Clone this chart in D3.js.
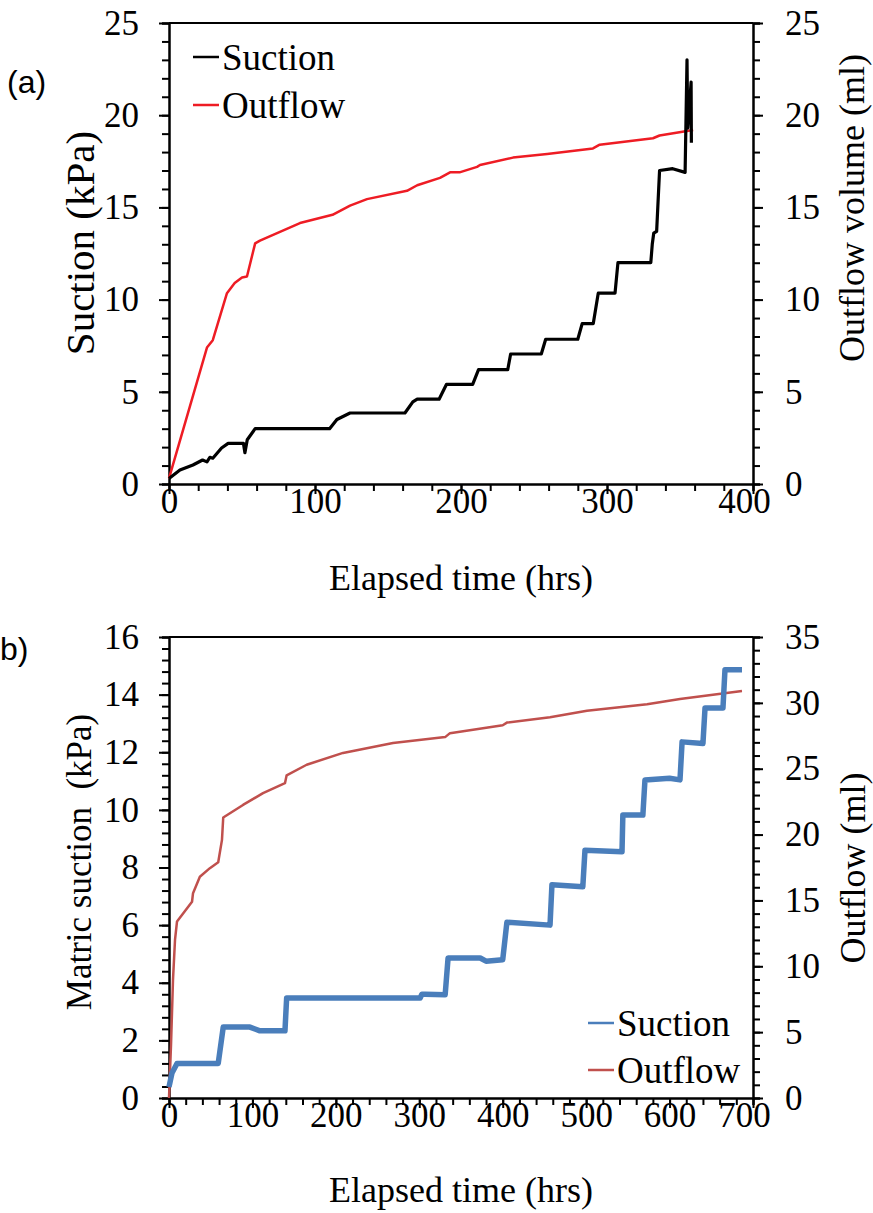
<!DOCTYPE html>
<html lang="en">
<head>
<meta charset="UTF-8">
<title>Suction and outflow vs elapsed time</title>
<script src="https://d3js.org/d3.v7.min.js"></script>
<style>
  body { margin: 0; background: #fff; }
  svg text { font-family: "Liberation Serif", "Times New Roman", serif; fill: #000; }
  .tag { font-family: "Liberation Sans", Arial, sans-serif !important; font-size: 32px; }
  .axis path, .axis line { stroke: #000; stroke-width: 2px; }
  .title { font-size: 36px; }
  .legend text { font-size: 37px; }
</style>
</head>
<body>
<svg width="873" height="1213"></svg>
<script>
// panel (a): [elapsed hrs, value]
const suctionA = [
  [0, 0.3], [7.5, 0.76], [16.4, 1.03], [23, 1.3], [26, 1.2], [28, 1.45], [30, 1.4],
  [36, 1.95], [40.5, 2.2], [51, 2.2], [52, 1.7], [53.6, 2.4], [59, 3.0], [110, 3.0],
  [115, 3.5], [124, 3.85], [161.6, 3.85], [167, 4.45], [170, 4.6], [185, 4.6],
  [190, 5.4], [208, 5.4], [212, 6.2], [232, 6.2], [234, 7.05], [255, 7.05],
  [258, 7.85], [280, 7.85], [283, 8.7], [290.6, 8.7], [294, 10.35], [305.5, 10.35],
  [307.5, 12.0], [330, 12.0], [331, 13.0], [332, 13.6], [334, 13.7], [336, 17.0],
  [345, 17.1], [353.5, 16.9], [354.8, 23.0], [355.3, 19.3], [356.5, 20.5],
  [357.6, 21.8], [357.8, 18.5]
];
const outflowA = [
  [0, 0.3], [26, 7.4], [30, 7.8], [39.7, 10.35], [45, 10.9], [50, 11.2], [53.4, 11.25],
  [59, 13.05], [62.3, 13.2], [89.7, 14.15], [112, 14.6], [124, 15.1], [135.6, 15.45],
  [163, 15.9], [170, 16.2], [185.6, 16.6], [192.5, 16.9], [199, 16.9], [211, 17.2],
  [213, 17.3], [235.6, 17.7], [259, 17.9], [290.4, 18.2], [295, 18.4], [331.5, 18.75],
  [336, 18.9], [359, 19.2]
];
// panel (b)
const suctionB = [
  [0, 0.38], [3.6, 0.87], [9.6, 1.2], [59, 1.2], [65, 2.46], [97, 2.46], [109, 2.33],
  [139, 2.33], [141, 3.47], [301, 3.47], [303, 3.6], [307, 3.6], [331, 3.58],
  [334.5, 4.86], [373, 4.86], [380, 4.75], [400, 4.8], [405, 6.1], [456.7, 6.0],
  [459, 7.4], [496, 7.33], [498.6, 8.6], [543, 8.55], [544, 9.82], [568, 9.82],
  [570.5, 11.04], [600, 11.1], [612.5, 11.04], [615, 12.36], [640, 12.3],
  [642.5, 13.54], [664, 13.54], [666.4, 14.86], [686.8, 14.86]
];
const outflowB = [
  [0, 0], [2.4, 4], [4.8, 9], [7.2, 12], [9.6, 13.4], [27.6, 14.9], [28.8, 15.55],
  [37, 16.8], [49, 17.45], [59, 17.9], [63.5, 19.6], [65, 21.3], [88.7, 22.25],
  [112.7, 23.15], [139, 23.9], [141, 24.5], [165, 25.3], [208.6, 26.2], [268.5, 26.95],
  [331, 27.4], [336.8, 27.7], [400, 28.3], [405, 28.5], [456.7, 28.9], [501, 29.4],
  [573, 29.9], [612.5, 30.3], [686.8, 30.9]
];

const xTicksA = [0, 100, 200, 300, 400];
const yLeftTicksA = [0, 5, 10, 15, 20, 25];
const yRightTicksA = [0, 5, 10, 15, 20, 25];
const xTicksB = [0, 100, 200, 300, 400, 500, 600, 700];
const yLeftTicksB = [0, 2, 4, 6, 8, 10, 12, 14, 16];
const yRightTicksB = [0, 5, 10, 15, 20, 25, 30, 35];

const svg = d3.select("svg");

function drawPanel(p) {
  const left = 169, right = 753;
  const x = d3.scaleLinear().domain([0, p.xMax]).range([left, right]);
  const yL = d3.scaleLinear().domain([0, p.yLMax]).range([p.bottom, p.top]);
  const yR = d3.scaleLinear().domain([0, p.yRMax]).range([p.bottom, p.top]);
  const g = svg.append("g");

  // top border
  g.append("line").attr("x1", left).attr("x2", right)
    .attr("y1", p.top).attr("y2", p.top)
    .attr("stroke", "#000").attr("stroke-width", 2);

  // minor ticks
  g.append("g").attr("class", "axis").attr("transform", `translate(0,${p.bottom})`)
    .call(d3.axisBottom(x).tickValues(d3.range(0, p.xMax + 1, p.xMinor)).tickSize(7).tickFormat(""));
  g.append("g").attr("class", "axis").attr("transform", `translate(${left},0)`)
    .call(d3.axisLeft(yL).tickValues(d3.range(0, p.yLMax + 0.001, p.yLMinor)).tickSize(7).tickFormat(""));
  g.append("g").attr("class", "axis").attr("transform", `translate(${right},0)`)
    .call(d3.axisRight(yR).tickValues(d3.range(0, p.yRMax + 0.001, p.yRMinor)).tickSize(7).tickFormat(""));

  // major ticks with labels
  const xAx = g.append("g").attr("class", "axis").attr("transform", `translate(0,${p.bottom})`)
    .call(d3.axisBottom(x).tickValues(p.xTicks).tickSize(10).tickSizeOuter(0));
  xAx.selectAll("text").attr("y", 4).attr("dy", "0.71em")
    .attr("dx", (d, i) => i === p.xTicks.length - 1 ? -9 : 0);
  g.append("g").attr("class", "axis").attr("transform", `translate(${left},0)`)
    .call(d3.axisLeft(yL).tickValues(p.yLTicks).tickSize(10).tickSizeOuter(0).tickPadding(20));
  g.append("g").attr("class", "axis").attr("transform", `translate(${right},0)`)
    .call(d3.axisRight(yR).tickValues(p.yRTicks).tickSize(10).tickSizeOuter(0).tickPadding(22));
  g.selectAll(".axis").attr("font-family", null).attr("font-size", null);
  g.selectAll(".axis text")
    .style("font-family", "'Liberation Serif', 'Times New Roman', serif")
    .style("font-size", "35px");

  // lines
  const lineL = d3.line().x(d => x(d[0])).y(d => yL(d[1]));
  const lineR = d3.line().x(d => x(d[0])).y(d => yR(d[1]));
  g.append("path").datum(p.outflow).attr("d", lineR)
    .attr("fill", "none").attr("stroke", p.outColor).attr("stroke-width", p.outWidth)
    .attr("stroke-linejoin", "round");
  g.append("path").datum(p.suction).attr("d", lineL)
    .attr("fill", "none").attr("stroke", p.sucColor).attr("stroke-width", p.sucWidth)
    .attr("stroke-linejoin", "round");

  // titles
  g.append("text").attr("class", "title").attr("text-anchor", "middle")
    .attr("x", (left + right) / 2).attr("y", p.xTitleY).text("Elapsed time (hrs)");
  g.append("text").attr("class", "title").attr("text-anchor", "middle")
    .attr("transform", `translate(${p.leftTitleX},${p.leftTitleY}) rotate(-90)`)
    .attr("dy", "0.35em").style("white-space", "pre").style("font-size", p.leftTitleSize + "px")
    .text(p.leftTitle);
  g.append("text").attr("class", "title").attr("text-anchor", "middle")
    .attr("transform", `translate(${p.rightTitleX},${p.rightTitleY}) rotate(-90)`)
    .attr("dy", "0.35em").text(p.rightTitle);

  // legend
  const lg = g.append("g").attr("class", "legend");
  [["Suction", p.sucColor, p.legendY[0]], ["Outflow", p.outColor, p.legendY[1]]].forEach(([name, col, yy]) => {
    lg.append("line").attr("x1", p.legendX).attr("x2", p.legendX + 26)
      .attr("y1", yy).attr("y2", yy).attr("stroke", col).attr("stroke-width", 2.5);
    lg.append("text").attr("x", p.legendX + 29).attr("y", yy).attr("dy", "0.35em").text(name);
  });

  svg.append("text").attr("class", "tag").attr("x", p.tagX).attr("y", p.tagY).text(p.tag);
}

drawPanel({
  top: 23, bottom: 484, xMax: 400, xMinor: 20, yLMax: 25, yLMinor: 1, yRMax: 25, yRMinor: 1,
  xTicks: xTicksA, yLTicks: yLeftTicksA, yRTicks: yRightTicksA,
  suction: suctionA, outflow: outflowA,
  sucColor: "#000000", sucWidth: 3.2, outColor: "#ee1c24", outWidth: 2.5,
  xTitleY: 590, leftTitle: "Suction (kPa)", leftTitleX: 80, leftTitleY: 243, leftTitleSize: 41,
  rightTitle: "Outflow volume (ml)", rightTitleX: 851, rightTitleY: 208,
  legendX: 193, legendY: [57, 105], tag: "(a)", tagX: 7, tagY: 93
});

drawPanel({
  top: 637, bottom: 1098, xMax: 700, xMinor: 20, yLMax: 16, yLMinor: 0.4, yRMax: 35, yRMinor: 1,
  xTicks: xTicksB, yLTicks: yLeftTicksB, yRTicks: yRightTicksB,
  suction: suctionB, outflow: outflowB,
  sucColor: "#4a7ebb", sucWidth: 5.5, outColor: "#c0504d", outWidth: 2.5,
  xTitleY: 1202, leftTitle: "Matric suction  (kPa)", leftTitleX: 79, leftTitleY: 862, leftTitleSize: 35,
  rightTitle: "Outflow (ml)", rightTitleX: 852, rightTitleY: 868,
  legendX: 588, legendY: [1023, 1070], tag: "b)", tagX: 0, tagY: 660
});
</script>
</body>
</html>
